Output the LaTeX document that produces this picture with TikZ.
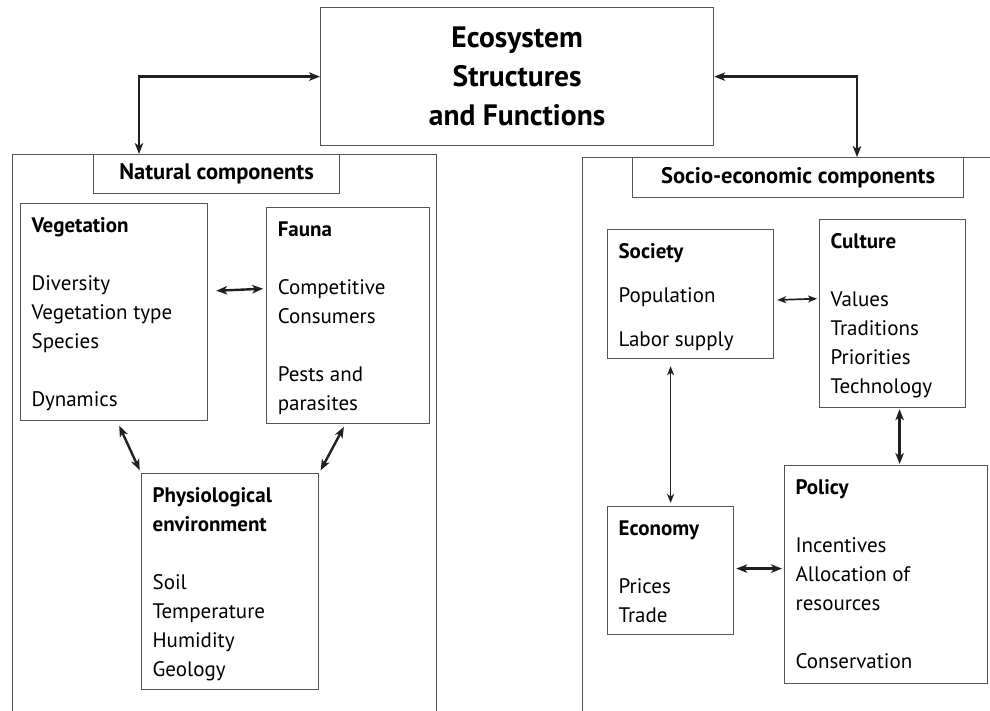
\documentclass[tikz,border=0pt]{standalone}
\usepackage{fontspec}
\setmainfont{PT Sans}
\usepackage{xcolor}
\usetikzlibrary{arrows.meta,positioning}

\definecolor{boxgray}{RGB}{85,85,85}
\definecolor{arrowdark}{RGB}{35,31,32}

% top-aligned text block inside a box of fixed size
\newcommand{\boxtext}[3]{\parbox[c][#2][t]{#1}{\raggedright\strut #3}}

\tikzset{
    box/.style={draw=boxgray, line width=1.2pt, inner xsep=11pt, inner ysep=9pt, anchor=north west},
    head/.style={draw=boxgray, line width=1.2pt, inner sep=0pt, anchor=north west, font=\fontsize{22.5}{29}\selectfont\bfseries},
    panel/.style={draw=boxgray, line width=1.2pt, inner sep=0pt, anchor=north west},
    link/.style={{Stealth[length=11pt,width=8.5pt,inset=3pt]}-{Stealth[length=11pt,width=8.5pt,inset=3pt]}, draw=arrowdark, line width=2.4pt},
    thinlink/.style={{Stealth[length=9pt,width=7pt,inset=2.5pt]}-{Stealth[length=9pt,width=7pt,inset=2.5pt]}, draw=arrowdark, line width=1.7pt}
}

\begin{document}
\begin{tikzpicture}[x=1pt, y=-1pt, font=\fontsize{21}{29}\selectfont]
    \useasboundingbox (0,0) rectangle (990,710);

    % top box
    \node [draw=boxgray, line width=1.2pt, anchor=north west, minimum width=393pt, minimum height=138pt, align=center,
           font=\fontsize{29.5}{39}\selectfont\bfseries] (eco) at (320,7) {Ecosystem\\Structures\\and Functions};

    % left panel: natural components
    \node [panel, minimum width=424pt, minimum height=570pt] (natpanel) at (12,154) {};
    \node [head, minimum width=246pt, minimum height=39pt] (nathead) at (93,154) {Natural components};
    \node [box] (veg) at (20,203) {\boxtext{165pt}{199pt}{\textbf{Vegetation}\\[29pt] Diversity\\ Vegetation type\\ Species\\[29pt] Dynamics}};
    \node [box, below right=4pt and 58pt of veg.north east] (fauna) {\boxtext{141pt}{198pt}{\textbf{Fauna}\\[29pt] Competitive\\ Consumers\\[29pt] Pests and\\ parasites}};
    \node [box] (phys) at (141,473) {\boxtext{155pt}{198pt}{\textbf{Physiological}\\ \textbf{environment}\\[29pt] Soil\\ Temperature\\ Humidity\\ Geology}};

    % right panel: socio-economic components
    \node [panel, minimum width=420pt, minimum height=570pt] (socpanel) at (582,157) {};
    \node [head, minimum width=331pt, minimum height=40pt] (sochead) at (632,157) {Socio-economic components};
    \node [box] (soc) at (607,229) {\boxtext{144pt}{111pt}{\textbf{Society}\\[15pt] Population\\[15pt] Labor supply}};
    \node [box] (cult) at (819,219) {\boxtext{124pt}{170pt}{\textbf{Culture}\\[29pt] Values\\ Traditions\\ Priorities\\ Technology}};
    \node [box] (econ) at (607,506) {\boxtext{104pt}{110pt}{\textbf{Economy}\\[29pt] Prices\\ Trade}};
    \node [box] (policy) at (784,465) {\boxtext{181pt}{200pt}{\textbf{Policy}\\[29pt] Incentives\\ Allocation of\\ resources\\[29pt] Conservation}};

    % entry points of the top connectors
    \coordinate (natin) at ([xshift=46pt]nathead.north west);
    \coordinate (socin) at ([xshift=225pt]sochead.north west);

    % connectors
    \draw [link] (eco.west) -| (natin);
    \draw [link] (eco.east) -| (socin);
    \draw [link, shorten <=8pt, shorten >=3pt] ([yshift=21pt]veg.east) -- ([yshift=27pt]fauna.west);
    \draw [link, shorten <=5pt, shorten >=3pt] ([xshift=3pt]veg.south) -- (phys.north west);
    \draw [link, shorten <=3pt, shorten >=3pt] ([xshift=-3pt]fauna.south) -- (phys.north east);
    \draw [thinlink, shorten <=3pt, shorten >=2pt] ([yshift=-6pt]soc.east) -- ([yshift=15pt]cult.west);
    \draw [thinlink, shorten <=7pt, shorten >=3pt] (econ.north |- soc.south) -- (econ.north);
    \draw [link, shorten <=1pt, shorten >=1pt] ([xshift=7pt]cult.south) -- ([xshift=7pt]cult.south |- policy.north);
    \draw [link, shorten <=2pt, shorten >=2pt] ([yshift=2pt]econ.east) -- ([yshift=2pt]econ.east -| policy.west);
\end{tikzpicture}
\end{document}
